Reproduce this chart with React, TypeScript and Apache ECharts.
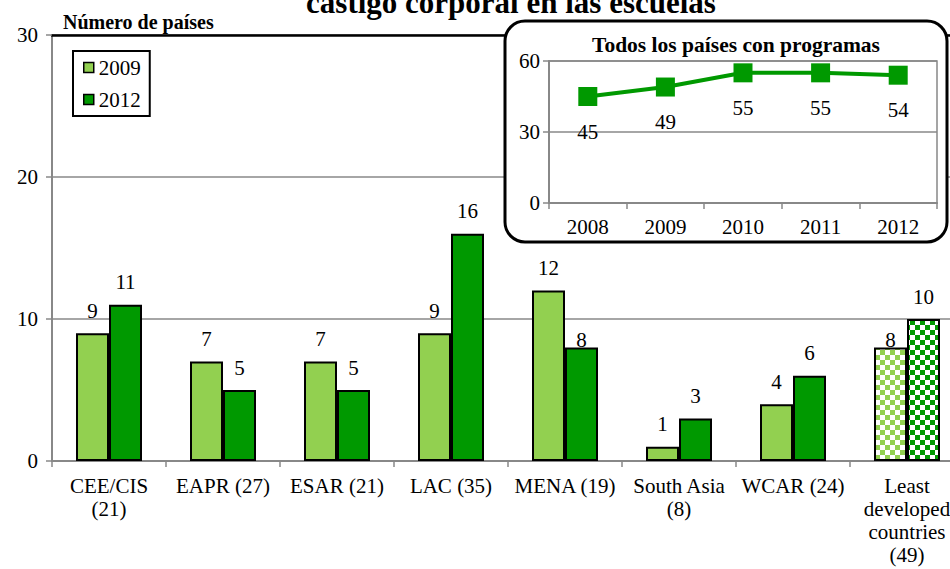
import { useEffect, useRef } from 'react';
import * as echarts from 'echarts';

const categories = [
  'CEE/CIS\n(21)',
  'EAPR (27)',
  'ESAR (21)',
  'LAC (35)',
  'MENA (19)',
  'South Asia\n(8)',
  'WCAR (24)',
  'Least\ndeveloped\ncountries\n(49)',
];
const values2009 = [9, 7, 7, 9, 12, 1, 4, 8];
const values2012 = [11, 5, 5, 16, 8, 3, 6, 10];
const mainTicks = [0, 10, 20, 30];

const insetYears = ['2008', '2009', '2010', '2011', '2012'];
const insetValues = [45, 49, 55, 55, 54];
const insetTicks = [0, 30, 60];

const LIGHT = '#92D050';
const DARK = '#009900';
const GRAY = '#888888';
const FONT = "'Liberation Serif', 'Times New Roman', serif";
const FS = 21;

function checker(color: string) {
  const c = document.createElement('canvas');
  c.width = 10;
  c.height = 10;
  const g = c.getContext('2d')!;
  g.fillStyle = '#ffffff';
  g.fillRect(0, 0, 10, 10);
  g.fillStyle = color;
  g.fillRect(0, 0, 5, 5);
  g.fillRect(5, 5, 5, 5);
  return { image: c.toDataURL(), repeat: 'repeat', imageWidth: 10, imageHeight: 10 };
}

export default function App() {
  const ref = useRef<HTMLDivElement>(null);
  useEffect(() => {
    if (!ref.current) return;
    const chart = echarts.init(ref.current, null, { renderer: 'svg' });
    const last = categories.length - 1;
    const lightPat = checker(LIGHT);
    const darkPat = checker(DARK);
    const build = (vals: number[], pat: any, lowIdx: number) =>
      vals.map((v, i) => {
        const item: any = { value: v };
        if (i === last) item.itemStyle = { color: pat };
        if (i === lowIdx) item.label = { distance: -3 };
        return item;
      });

    const barLabel = { show: true, position: 'top', distance: 12, color: '#000', fontSize: FS, fontFamily: FONT };

    chart.setOption({
      animation: false,
      textStyle: { fontFamily: FONT, color: '#000' },
      title: [
        {
          text: 'castigo corporal en las escuelas',
          left: 511,
          top: -13,
          textAlign: 'center',
          textStyle: { fontSize: 31, fontWeight: 'bold', color: '#000', fontFamily: FONT },
          padding: 0,
        },
        {
          text: 'Número de países',
          left: 63,
          top: 12,
          textStyle: { fontSize: 20, fontWeight: 'bold', color: '#000', fontFamily: FONT },
          padding: 0,
        },
        {
          text: 'Todos los países con programas',
          left: 736,
          top: 34,
          textAlign: 'center',
          z: 8,
          textStyle: { fontSize: 21.5, fontWeight: 'bold', color: '#000', fontFamily: FONT },
          padding: 0,
        },
      ],
      legend: {
        data: ['2009', '2012'],
        orient: 'vertical',
        left: 73,
        top: 51,
        padding: [6, 9, 6, 10],
        itemGap: 11,
        itemWidth: 10,
        itemHeight: 10,
        icon: 'rect',
        borderColor: '#000',
        borderWidth: 2,
        backgroundColor: '#fff',
        itemStyle: { borderColor: '#000', borderWidth: 1.5 },
        textStyle: { fontSize: FS, color: '#000', fontFamily: FONT },
      },
      graphic: [
        {
          type: 'rect',
          z: 5,
          shape: { x: 505, y: 21, width: 442, height: 221, r: 20 },
          style: { fill: '#fff', stroke: '#000', lineWidth: 3 },
        },
      ],
      grid: [
        { left: 52, top: 35, width: 912, bottom: 108, outerBoundsMode: 'none', containLabel: false },
        {
          left: 549,
          top: 61,
          right: 13,
          bottom: 366,
          show: true,
          borderColor: GRAY,
          borderWidth: 1.5,
          z: 6,
          outerBoundsMode: 'none',
          containLabel: false,
        },
      ],
      xAxis: [
        {
          type: 'category',
          gridIndex: 0,
          data: categories,
          z: 0,
          axisLine: { lineStyle: { color: GRAY, width: 2 } },
          axisTick: { show: true, length: 6, interval: 0, lineStyle: { color: GRAY, width: 1.5 } },
          axisLabel: { interval: 0, color: '#000', fontSize: FS, lineHeight: 23, margin: 13, fontFamily: FONT },
        },
        {
          type: 'category',
          gridIndex: 0,
          data: categories,
          position: 'top',
          z: 0,
          axisLine: { lineStyle: { color: '#000', width: 2.5 } },
          axisTick: { show: false },
          axisLabel: { show: false },
        },
        {
          type: 'category',
          gridIndex: 1,
          data: insetYears,
          z: 6,
          axisLine: { lineStyle: { color: GRAY, width: 2 } },
          axisTick: { show: true, length: 6, lineStyle: { color: GRAY, width: 1.5 } },
          axisLabel: { color: '#000', fontSize: FS, margin: 13, fontFamily: FONT },
        },
      ],
      yAxis: [
        {
          type: 'value',
          gridIndex: 0,
          min: mainTicks[0],
          max: mainTicks[mainTicks.length - 1],
          interval: mainTicks[1] - mainTicks[0],
          z: 0,
          axisLine: { show: true, lineStyle: { color: GRAY, width: 2 } },
          axisTick: { show: true, length: 6, lineStyle: { color: GRAY, width: 1.5 } },
          splitLine: { lineStyle: { color: GRAY, width: 1.5 } },
          axisLabel: { color: '#000', fontSize: FS, margin: 14, fontFamily: FONT },
        },
        {
          type: 'value',
          gridIndex: 1,
          min: insetTicks[0],
          max: insetTicks[insetTicks.length - 1],
          interval: insetTicks[1] - insetTicks[0],
          z: 6,
          axisLine: { show: true, lineStyle: { color: GRAY, width: 2 } },
          axisTick: { show: true, length: 6, lineStyle: { color: GRAY, width: 1.5 } },
          splitLine: { lineStyle: { color: GRAY, width: 1.5 } },
          axisLabel: { color: '#000', fontSize: FS, margin: 9, fontFamily: FONT },
        },
      ],
      series: [
        {
          name: '2009',
          type: 'bar',
          xAxisIndex: 0,
          yAxisIndex: 0,
          barWidth: 33,
          barGap: '0%',
          itemStyle: { color: LIGHT, borderColor: '#000', borderWidth: 2 },
          label: barLabel,
          data: build(values2009, lightPat, 7),
        },
        {
          name: '2012',
          type: 'bar',
          xAxisIndex: 0,
          yAxisIndex: 0,
          barWidth: 33,
          barGap: '0%',
          itemStyle: { color: DARK, borderColor: '#000', borderWidth: 2 },
          label: barLabel,
          data: build(values2012, darkPat, 4),
        },
        {
          name: 'Todos',
          type: 'line',
          xAxisIndex: 2,
          yAxisIndex: 1,
          z: 8,
          symbol: 'rect',
          symbolSize: 19,
          lineStyle: { color: DARK, width: 4 },
          itemStyle: { color: DARK },
          label: { show: true, position: 'bottom', distance: 15, color: '#000', fontSize: FS, fontFamily: FONT },
          data: insetValues,
        },
      ],
    });
    return () => chart.dispose();
  }, []);
  return <div ref={ref} style={{ width: 950, height: 569, position: 'absolute', left: 0, top: 0 }} />;
}
